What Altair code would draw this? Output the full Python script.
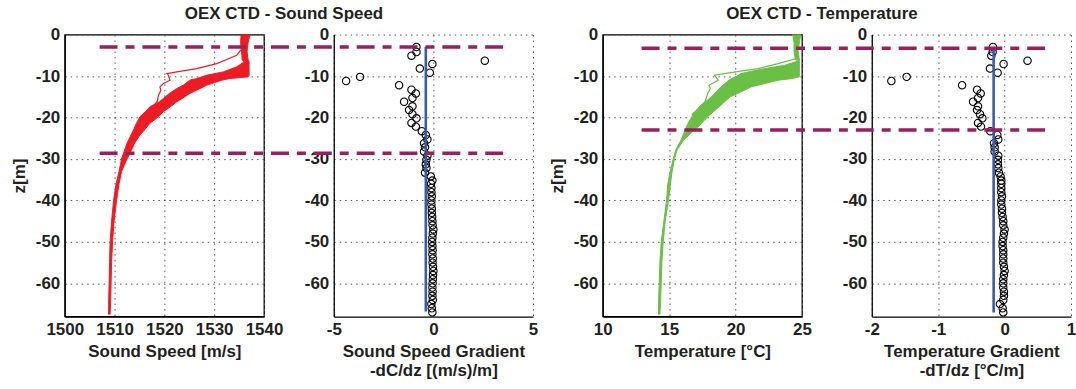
import altair as alt
import pandas as pd

# ---------------- data ----------------
# Sound speed profile band (edges of the bundle of casts)
ss_depth = [0, -2, -4, -6, -6.6, -7.8, -9, -9.8, -10.2, -10.6, -11, -12.2, -13, -14.2, -15.4,
            -16.2, -17.4, -18.6, -19.8, -21.4, -23, -24.2, -26.2, -28.6, -30, -33, -36, -40,
            -45, -50, -55, -60, -65, -67.5]
ss_left = [1535.4, 1535.3, 1535.5, 1535.6, 1536.0, 1534.5, 1531.8, 1528.5, 1527.5, 1526.5,
           1525.1, 1523.8, 1522.5, 1521.0, 1519.8, 1519.0, 1517.1, 1516.2, 1515.1, 1514.4,
           1513.8, 1513.3, 1512.5, 1511.8, 1511.4, 1510.9, 1510.3, 1509.8, 1509.4, 1509.1,
           1509.0, 1508.9, 1508.8, 1508.8]
ss_right = [1537.2, 1536.8, 1536.6, 1536.8, 1537.0, 1537.0, 1537.0, 1537.0, 1536.8, 1533.1,
            1531.5, 1528.5, 1527.2, 1525.1, 1523.6, 1522.5, 1521.2, 1519.8, 1518.8, 1517.1,
            1516.0, 1515.1, 1514.0, 1513.1, 1512.5, 1511.4, 1510.9, 1510.4, 1509.9, 1509.6,
            1509.4, 1509.3, 1509.2, 1509.1]
# single outlying cast
ss_out_depth = [0, -1, -2.2, -3.5, -5, -6, -7, -8.2, -9.0, -9.4, -9.8, -11, -11.8, -12.6,
                -13.5, -14.6, -16, -17, -18.2, -19.4]
ss_out_c = [1536.3, 1536.0, 1536.1, 1535.5, 1534.5, 1532.5, 1530.5, 1526.5, 1522.5, 1520.5,
            1520.8, 1521.1, 1519.8, 1519.1, 1519.3, 1518.8, 1518.6, 1518.0, 1517.5, 1515.8]

# Temperature profile band
t_depth = [0, -2, -4, -6, -6.4, -7.4, -8.2, -9.4, -10.2, -10.6, -11, -12.6, -14.6, -15, -17,
           -19.8, -22.2, -23, -25.4, -27.8, -30, -33.4, -36, -40, -45, -50, -55, -60, -65, -67.5]
t_left = [24.3, 24.4, 24.4, 24.5, 24.7, 23.7, 22.2, 20.4, 20.0, 19.7, 19.5, 18.9, 18.3, 18.2,
          17.4, 16.7, 16.3, 16.2, 15.9, 15.5, 15.3, 15.05, 14.9, 14.8, 14.6, 14.4, 14.3, 14.25,
          14.2, 14.2]
t_right = [24.9, 24.8, 24.7, 24.8, 24.8, 24.8, 24.8, 24.8, 24.8, 24.3, 23.2, 21.2, 19.9, 19.6,
           18.9, 17.9, 17.2, 16.9, 16.1, 15.6, 15.4, 15.2, 15.1, 14.95, 14.7, 14.55, 14.45,
           14.4, 14.35, 14.3]
t_out_depth = [0, -1, -2.2, -4, -5.8, -7, -8.2, -9.0, -9.8, -11.0, -12.2, -13, -14.2, -16.2,
               -17.8, -19.4]
t_out_t = [24.8, 24.6, 24.7, 24.6, 24.55, 23.2, 21.7, 20.0, 18.4, 18.7, 18.0, 18.1, 17.9, 17.7,
           17.2, 16.7]

# Gradient samples (same depths for both)
grad_depth = [-3.0, -4.2, -5.1, -6.3, -7.1, -8.2, -9.2, -10.2, -11.2, -12.2, -13.3, -14.2,
              -15.3, -16.2, -17.3, -18.2, -19.2, -20.2, -21.3, -22.2, -23.3, -24.2, -25.3,
              -26.2, -27.2, -28.2, -29.2, -30.2, -31.3, -32.2, -33.3, -34.2, -35.2,
              -36, -37, -38, -39, -40, -41, -42, -43, -44, -45, -46, -47, -48, -49, -50, -51,
              -52, -53, -54, -55, -56, -57, -58, -59, -60, -61, -62, -63, -64, -65, -66, -67]
dcdz = [-0.85, -0.85, -1.1, 2.58, -0.05, -0.68, -0.18, -3.68, -4.38, -1.72, -1.1, -0.88,
        -1.05, -1.47, -1.05, -1.22, -1.05, -0.85, -1.1, -0.88, -0.58, -0.38, -0.3, -0.47,
        -0.42, -0.47, -0.3, -0.35, -0.38, -0.35, -0.42, -0.13, -0.05,
        -0.12, -0.1, -0.1, -0.08, -0.1, -0.1, -0.08, -0.08, -0.06, -0.05, -0.04, 0.0, -0.03,
        -0.05, -0.06, -0.05, -0.04, -0.05, -0.03, -0.04, -0.02, 0.0, -0.02, -0.03, -0.04,
        -0.05, -0.04, -0.05, -0.03, -0.1, -0.08, -0.05]
dtdz = [-0.175, -0.18, -0.2, 0.345, -0.015, -0.22, -0.105, -1.475, -1.705, -0.64, -0.415,
        -0.36, -0.4, -0.475, -0.4, -0.415, -0.37, -0.335, -0.4, -0.355, -0.215, -0.11, -0.095,
        -0.16, -0.15, -0.15, -0.095, -0.1, -0.1, -0.095, -0.085, -0.06, -0.05,
        -0.05, -0.05, -0.05, -0.04, -0.05, -0.05, -0.04, -0.04, -0.03, -0.02, -0.02, 0.0,
        -0.01, -0.02, -0.03, -0.03, -0.02, -0.02, -0.02, -0.02, -0.01, 0.0, -0.01, -0.02,
        -0.02, -0.02, -0.01, -0.01, -0.02, -0.07, -0.03, -0.02]

# Mean gradient lines
mean_dcdz, mean_dcdz_top, mean_dcdz_bot = -0.38, -3.0, -66.8
mean_dtdz, mean_dtdz_top, mean_dtdz_bot = -0.165, -3.3, -67.0

# Layer boundaries (dash-dot lines), depth and horizontal extent in the gradient panel units
ss_layers = [-3.0, -28.6]
ss_layer_x = [-16.75, 3.6]
t_layers = [-3.3, -23.0]
t_layer_x = [-5.465, 0.61]

# ---------------- styling ----------------
FONT = "Liberation Sans"
TXT = "#231f20"
RED = "#ed1c24"
GREEN = "#6abf45"
BLUE = "#3d5aa8"
MAROON = "#9b1f5e"
Y_TICKS = [-60, -50, -40, -30, -20, -10, 0]
yscale = alt.Scale(domain=[-68, 0], nice=False, zero=False)


def axis(values, title=None, **kw):
    args = dict(values=values, grid=True, gridDash=[1.5, 4], gridColor="#555", gridWidth=1,
                ticks=False, domainColor="black", domainWidth=1.3, labelFont=FONT,
                labelFontSize=17, labelFontWeight="bold", labelColor=TXT, titleFont=FONT,
                titleFontSize=17, titleFontWeight="bold", titleColor=TXT, labelPadding=5,
                titlePadding=6, titleLineHeight=19, labelOverlap=False, labelFlush=False,
                labelExpr="toString(datum.value)")
    args["title"] = title
    args.update(kw)
    return alt.Axis(**args)


def panel(layers, stroke, title=None):
    props = dict(width=200, height=283)
    if title is not None:
        props["title"] = alt.TitleParams(title, font=FONT, fontSize=17, fontWeight="bold",
                                         color=TXT, anchor="middle", frame="group",
                                         offset=3, dx=120)
    ch = alt.layer(*layers).properties(**props)
    if stroke:
        ch = ch.properties(view=alt.ViewBackground(stroke="black", strokeWidth=1.3))
    else:
        ch = ch.properties(view=alt.ViewBackground(stroke="transparent", strokeWidth=0))
    return ch


def profile_panel(depth, left, right, out_d, out_v, color, xdom, xvals, xtitle, title):
    xs = alt.Scale(domain=xdom, nice=False, zero=False)
    xa = axis(xvals, xtitle)
    ya = axis(Y_TICKS, "z[m]", titlePadding=7)
    band = pd.DataFrame({"z": depth, "l": left, "r": right})
    out = pd.DataFrame({"z": out_d, "v": out_v, "i": list(range(len(out_d)))})
    area = alt.Chart(band).mark_area(orient="horizontal", color=color, opacity=1).encode(
        y=alt.Y("z:Q", scale=yscale, axis=ya),
        x=alt.X("l:Q", scale=xs, axis=xa),
        x2="r:Q")
    edge_l = alt.Chart(band).mark_line(color=color, strokeWidth=1).encode(
        y=alt.Y("z:Q", scale=yscale, axis=ya), x=alt.X("l:Q", scale=xs, axis=xa),
        order="z:Q")
    edge_r = alt.Chart(band).mark_line(color=color, strokeWidth=1).encode(
        y=alt.Y("z:Q", scale=yscale, axis=ya), x=alt.X("r:Q", scale=xs, axis=xa),
        order="z:Q")
    line = alt.Chart(out).mark_line(color=color, strokeWidth=1.2).encode(
        y=alt.Y("z:Q", scale=yscale, axis=ya), x=alt.X("v:Q", scale=xs, axis=xa),
        order="i:Q")
    return panel([area, edge_l, edge_r, line], True, title)


def gradient_panel(depth, vals, mean, mtop, mbot, layers, lx, xdom, xvals, xtitle):
    xs = alt.Scale(domain=xdom, nice=False, zero=False)
    xa = axis(xvals, xtitle)
    ya = axis(Y_TICKS, None)
    pts = pd.DataFrame({"z": depth, "g": vals})
    mean_df = pd.DataFrame({"g": [mean], "top": [mtop], "bot": [mbot]})
    lay = pd.DataFrame({"z": layers, "x1": [lx[0]] * len(layers), "x2": [lx[1]] * len(layers)})
    scatter = alt.Chart(pts).mark_point(shape="circle", filled=False, color="black",
                                        strokeWidth=1.1, size=55, opacity=1).encode(
        y=alt.Y("z:Q", scale=yscale, axis=ya), x=alt.X("g:Q", scale=xs, axis=xa))
    mline = alt.Chart(mean_df).mark_rule(color=BLUE, strokeWidth=2.6).encode(
        x=alt.X("g:Q", scale=xs, axis=xa), y=alt.Y("top:Q", scale=yscale, axis=ya), y2="bot:Q")
    dash = alt.Chart(lay).mark_rule(color=MAROON, strokeWidth=3.5,
                                    strokeDash=[18, 8, 9, 8]).encode(
        y=alt.Y("z:Q", scale=yscale, axis=ya), x=alt.X("x1:Q", scale=xs, axis=xa), x2="x2:Q")
    return panel([scatter, mline, dash], False)


p1 = profile_panel(ss_depth, ss_left, ss_right, ss_out_depth, ss_out_c, RED,
                   [1500, 1540], [1500, 1510, 1520, 1530, 1540], "Sound Speed [m/s]",
                   "OEX CTD - Sound Speed")
p2 = gradient_panel(grad_depth, dcdz, mean_dcdz, mean_dcdz_top, mean_dcdz_bot,
                    ss_layers, ss_layer_x, [-5, 5], [-5, 0, 5],
                    ["Sound Speed Gradient", "-dC/dz [(m/s)/m]"])
p3 = profile_panel(t_depth, t_left, t_right, t_out_depth, t_out_t, GREEN,
                   [10, 25], [10, 15, 20, 25], "Temperature [°C]", "OEX CTD - Temperature")
p4 = gradient_panel(grad_depth, dtdz, mean_dtdz, mean_dtdz_top, mean_dtdz_bot,
                    t_layers, t_layer_x, [-2, 1], [-2, -1, 0, 1],
                    ["Temperature Gradient", "-dT/dz [°C/m]"])

chart = alt.hconcat(p1, p2, p3, p4, spacing=70, bounds="flush").resolve_scale(
    x="independent", y="independent"
).properties(
    padding={"left": 9, "top": 3, "right": 0, "bottom": 0},
    background="white",
).configure_view(stroke="black", strokeWidth=1.3)

chart.save("out.html", embed_options={"renderer": "svg", "actions": False})
